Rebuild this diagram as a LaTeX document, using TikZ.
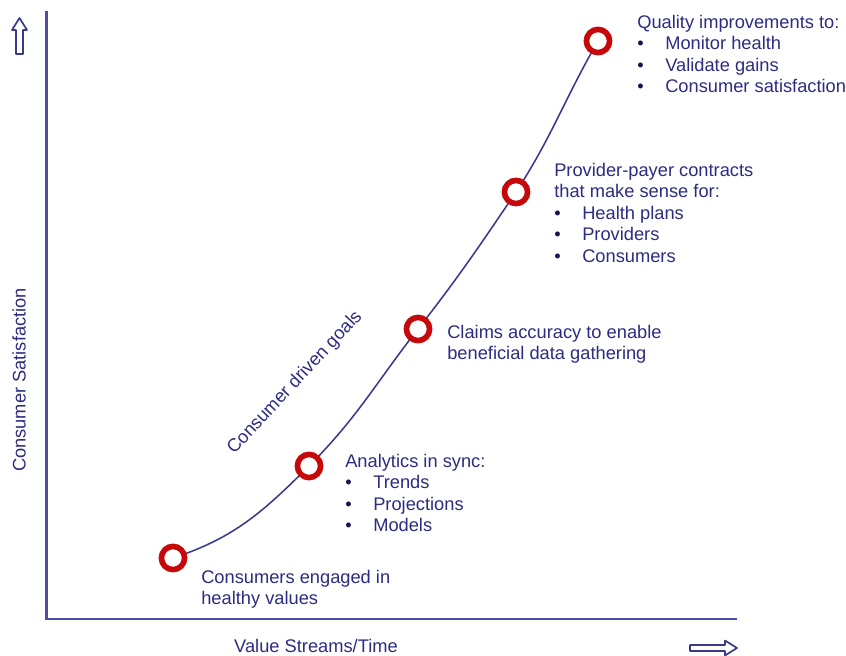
\documentclass[tikz,border=0pt]{standalone}
\usepackage{fontspec}
\setmainfont{Liberation Sans}
\usetikzlibrary{backgrounds}
\definecolor{axisblue}{RGB}{78, 78, 168}
\definecolor{curveblue}{RGB}{58, 58, 140}
\definecolor{textnavy}{RGB}{44, 44, 130}
\definecolor{bulletnavy}{RGB}{20, 20, 80}
\definecolor{ringred}{RGB}{198, 8, 10}

\newcommand{\bitem}[1]{\makebox[0.7cm][l]{\textcolor{bulletnavy}{\textbullet}}#1}

\tikzset{
  milestone/.style={circle, draw=ringred, line width=4pt, fill=white,
    minimum size=0.58cm, inner sep=0pt},
  note/.style={anchor=north west, inner sep=0pt, align=left, text=textnavy,
    font=\fontsize{13}{15.3}\selectfont},
  axislabel/.style={text=textnavy, font=\fontsize{13}{15.3}\selectfont},
  hollowarrow/.style={draw=curveblue, line width=1.2pt, fill=white, line join=round},
}

\begin{document}
\begin{tikzpicture}

  \useasboundingbox (0,0) rectangle (21.15,16.4);

  % 坐标轴
  \draw[axisblue, line width=1.8pt] (1.16,16.125) -- (1.16,0.925) -- (18.425,0.925);
  \node[axislabel, rotate=90] (ylab) at (0.475,6.9) {Consumer Satisfaction};
  \node[axislabel, anchor=base] (xlab) at (7.9,0.075) {Value Streams/Time};

  % 空心箭头
  \draw[hollowarrow] (0.4,15.05) -- (0.4,15.65) -- (0.3,15.65) -- (0.4875,15.95)
    -- (0.675,15.65) -- (0.575,15.65) -- (0.575,15.05) -- cycle;
  \draw[hollowarrow] (17.25,0.125) -- (18.125,0.125) -- (18.125,0.0125) -- (18.425,0.2)
    -- (18.125,0.3875) -- (18.125,0.275) -- (17.25,0.275) -- cycle;

  % 里程碑
  \node[milestone] (m1) at (4.325,2.45) {};
  \node[milestone] (m2) at (7.725,4.75) {};
  \node[milestone] (m3) at (10.45,8.175) {};
  \node[milestone] (m4) at (12.9,11.6) {};
  \node[milestone] (m5) at (14.95,15.375) {};

  % 曲线（放在圆圈下面）
  \begin{scope}[on background layer]
    \draw[curveblue, line width=1.1pt]
      (m1.center) to[out=18, in=225] (m2.center) to[out=45, in=232] (m3.center)
      to[out=52, in=236] (m4.center) to[out=57, in=240] (m5.center);
  \end{scope}
  \node[axislabel, rotate=47] (goals) at (7.375,6.83) {Consumer driven goals};

  % 说明文字
  \node[note] (n1) at (5.025,2.16) {Consumers engaged in\\healthy values};
  \node[note] (n2) at (8.625,5.06) {Analytics in sync:\\\bitem{Trends}\\\bitem{Projections}\\\bitem{Models}};
  \node[note] (n3) at (11.175,8.285) {Claims accuracy to enable\\beneficial data gathering};
  \node[note] (n4) at (13.85,12.335) {Provider-payer contracts\\that make sense for:\\\bitem{Health plans}\\\bitem{Providers}\\\bitem{Consumers}};
  \node[note] (n5) at (15.925,16.035) {Quality improvements to:\\\bitem{Monitor health}\\\bitem{Validate gains}\\\bitem{Consumer satisfaction}};

\end{tikzpicture}
\end{document}
